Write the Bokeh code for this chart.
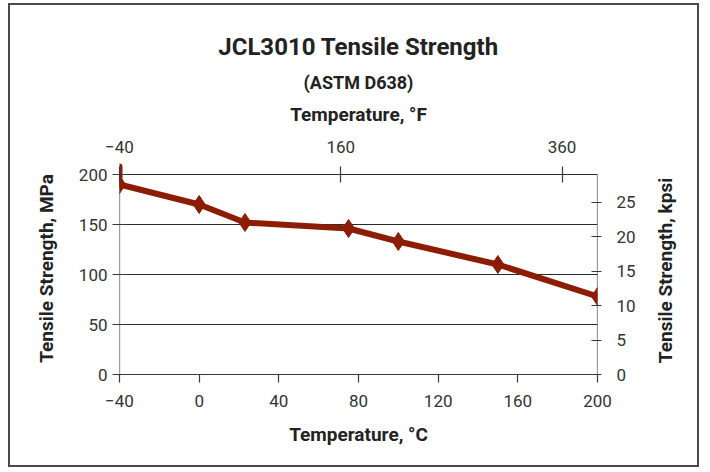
import math
from bokeh.plotting import figure
from bokeh.models import Range1d, LinearAxis, Title, FixedTicker, Label
from bokeh.embed import file_html
from bokeh.resources import INLINE

# ---- data ----
temp_c = [-40, 0, 23, 75, 100, 150, 200]
strength_mpa = [190, 170, 152, 146, 133, 110, 78]
bar_x = [-40]
bar_lo = [190]
bar_hi = [208]
c_ticks = [-40, 0, 40, 80, 120, 160, 200]
f_ticks = [-40, 160, 360]
mpa_ticks = [0, 50, 100, 150, 200]
kpsi_ticks = [0, 5, 10, 15, 20, 25]
grid_levels = [50, 100, 150, 200]
MPA_PER_KPSI = 6.894757

FONT = "Roboto"
RED = "#8c1c04"
INK = "#222222"
TICK_INK = "#333333"
AXIS = "#3a3a3a"

c_min, c_max = -40, 200
mpa_min, mpa_max = 0, 200
view_top = 212          # room above 200 MPa so the stub at -40 is not clipped
f_min, f_max = c_min * 9 / 5 + 32, c_max * 9 / 5 + 32

p = figure(width=691, height=464,
           x_range=Range1d(c_min, c_max), y_range=Range1d(mpa_min, view_top),
           output_backend="svg", toolbar_location=None, title=None,
           min_border_left=109, min_border_right=104,
           min_border_top=157, min_border_bottom=95)
p.styles = {"border": "2px solid #4a4a4a", "margin-left": "8px", "margin-top": "3px"}
p.outline_line_color = None
p.background_fill_color = "white"
p.border_fill_color = "white"

p.extra_x_ranges = {"F": Range1d(f_min, f_max)}
p.extra_y_ranges = {"kpsi": Range1d(0, view_top / MPA_PER_KPSI)}

def minus(v):
    return ("\u2212" + str(abs(v))) if v < 0 else str(v)

def style_axis(ax, tin, tout, std, lstd):
    ax.axis_line_color = AXIS
    ax.axis_line_width = 1.2
    ax.major_tick_line_color = AXIS
    ax.major_tick_line_width = 1.2
    ax.major_tick_in = tin
    ax.major_tick_out = tout
    ax.minor_tick_line_color = None
    ax.major_label_text_font = FONT
    ax.major_label_text_font_size = "17px"
    ax.major_label_text_color = TICK_INK
    ax.major_label_standoff = std
    ax.axis_label_text_font = FONT
    ax.axis_label_text_font_size = "19px"
    ax.axis_label_text_font_style = "bold"
    ax.axis_label_text_color = INK
    ax.axis_label_standoff = lstd

# bottom axis (deg C)
xa = p.xaxis[0]
xa.ticker = FixedTicker(ticks=c_ticks)
xa.major_label_overrides = {t: minus(t) for t in c_ticks}
xa.axis_label = "Temperature, \u00b0C"
style_axis(xa, 0, 8, 12, 13)

# left axis (MPa)
ya = p.yaxis[0]
ya.ticker = FixedTicker(ticks=mpa_ticks)
ya.axis_label = "Tensile Strength, MPa"
style_axis(ya, 7, 7, 5, 18)
ya.axis_line_color = None

# right axis (kpsi)
ra = LinearAxis(y_range_name="kpsi", ticker=FixedTicker(ticks=kpsi_ticks))
style_axis(ra, 6, 4, 15, 22)
ra.axis_line_color = None
p.add_layout(ra, "right")
p.add_layout(Label(x=c_max, y=(mpa_min + mpa_max) / 2, x_offset=68, y_offset=4,
                   text="Tensile Strength, kpsi", angle=math.pi / 2,
                   text_align="center", text_baseline="middle",
                   text_font=FONT, text_font_size="19px", text_font_style="bold",
                   text_color=INK), "right")

# top axis (deg F): sits on the frame top, ticks pushed down onto the 200 MPa line
gap = view_top - mpa_max
ta = LinearAxis(x_range_name="F", ticker=FixedTicker(ticks=f_ticks),
                axis_label="Temperature, \u00b0F")
ta.major_label_overrides = {t: minus(t) for t in f_ticks}
style_axis(ta, gap + 8, 8 - gap, 10, 12)
ta.axis_line_color = None
p.add_layout(ta, "above")

sub = Title(text="(ASTM D638)", align="center", text_font=FONT,
            text_font_size="18px", text_font_style="bold", text_color=INK,
            standoff=13)
p.add_layout(sub, "above")
main = Title(text="JCL3010 Tensile Strength", align="center", text_font=FONT,
             text_font_size="24px", text_font_style="bold", text_color=INK,
             standoff=5, offset=-6)
p.add_layout(main, "above")

p.xgrid.visible = False
p.ygrid.ticker = FixedTicker(ticks=grid_levels)
p.ygrid.grid_line_color = "#2a2a2a"
p.ygrid.grid_line_width = 1.2

# frame side lines (left / right axis lines) spanning 0..200 MPa
p.segment(x0=[c_min, c_max], y0=[mpa_min, mpa_min], x1=[c_min, c_max], y1=[mpa_max, mpa_max],
          line_color=AXIS, line_width=1.2)

p.segment(x0=bar_x, y0=bar_lo, x1=bar_x, y1=bar_hi,
          line_color=RED, line_width=6, line_cap="round")
p.line(temp_c, strength_mpa, line_color=RED, line_width=6)
p.scatter(temp_c, strength_mpa, marker="diamond", size=18,
          fill_color=RED, line_color=RED)

open("out.html", "w").write(file_html(p, INLINE))
